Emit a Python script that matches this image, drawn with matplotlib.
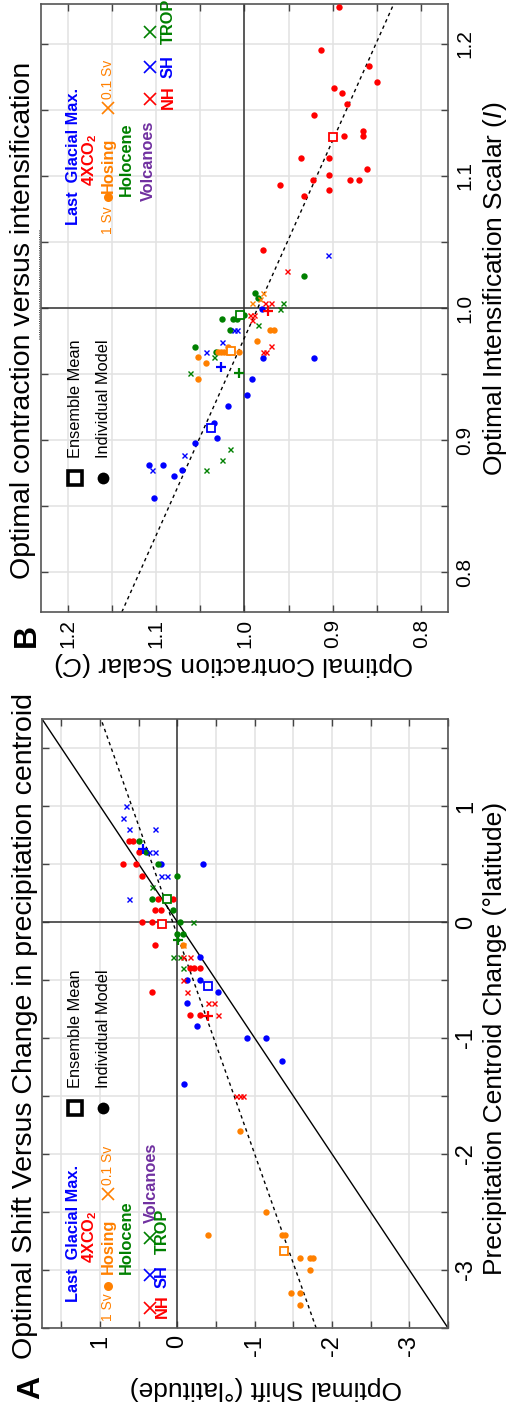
import numpy as np
import matplotlib
matplotlib.use('Agg')
from matplotlib import pyplot as plt
from matplotlib.ticker import MultipleLocator, FuncFormatter
from matplotlib.lines import Line2D

plt.rcParams['font.family'] = ['Liberation Sans', 'DejaVu Sans']
plt.rcParams['mathtext.fontset'] = 'custom'
plt.rcParams['mathtext.rm'] = 'Liberation Sans'
plt.rcParams['mathtext.it'] = 'Liberation Sans:italic'
plt.rcParams['mathtext.bf'] = 'Liberation Sans:bold'

BLUE = '#0000ff'
RED = '#ff0000'
GREEN = '#008000'
ORANGE = '#ff8000'
PURPLE = '#7030a0'

# ---- panel A: precipitation centroid change (cen) vs optimal shift (shf)
a_co2_cen = [0.70, 0.70, 0.60, 0.50, 0.50, 0.40, 0.20, 0.20, 0.10, 0.10, 0.0, 0.0, -0.2, -0.4, -0.4, -0.4, -0.6, -0.8, -0.8]
a_co2_shf = [0.62, 0.57, 0.49, 0.70, 0.54, 0.46, 0.25, 0.06, 0.29, 0.21, 0.46, 0.33, 0.29, -0.17, -0.21, -0.29, 0.33, -0.16, -0.29]
a_lgm_cen = [0.5, 0.5, -0.3, -0.5, -0.5, -0.6, -0.7, -0.9, -1.0, -1.0, -1.2, -1.4]
a_lgm_shf = [0.21, -0.33, -0.29, -0.13, -0.29, -0.53, -0.12, -0.25, -0.90, -1.15, -1.35, -0.08]
a_hol_cen = [0.70, 0.60, 0.50, 0.40, 0.20, 0.10, 0.0, -0.1, -0.1]
a_hol_shf = [0.49, 0.41, 0.25, 0.0, 0.33, 0.05, -0.04, 0.0, -0.07]
a_hos_cen = [-0.2, -1.8, -2.5, -2.7, -2.7, -2.7, -2.9, -2.9, -2.9, -3.0, -3.2, -3.2, -3.3]
a_hos_shf = [-0.07, -0.815, -1.15, -0.40, -1.35, -1.39, -1.59, -1.72, -1.76, -1.72, -1.47, -1.59, -1.59]
a_hos01_cen = [-0.2]
a_hos01_shf = [-0.07]
a_sh_cen = [1.0, 0.9, 0.8, 0.8, 0.6, 0.6, 0.4, 0.4, 0.2]
a_sh_shf = [0.66, 0.70, 0.62, 0.29, 0.36, 0.29, 0.21, 0.13, 0.62]
a_trop_cen = [0.3, 0.0, -0.3, -0.3, -0.4]
a_trop_shf = [0.33, -0.2, 0.05, -0.04, -0.07]
a_nh_cen = [-0.3, -0.3, -0.5, -0.6, -0.7, -0.7, -0.8, -1.5, -1.5, -1.5]
a_nh_shf = [-0.07, -0.16, -0.07, -0.12, -0.40, -0.48, -0.53, -0.76, -0.81, -0.85]
# ensemble means: co2, lgm, hol, hos
a_mean_cen = [-0.02, -0.55, 0.2, -2.84]
a_mean_shf = [0.20, -0.40, 0.13, -1.38]
# volcano means: nh, sh, trop
a_vmean_cen = [-0.81, 0.63, -0.155]
a_vmean_shf = [-0.40, 0.44, -0.01]
a_fit = (0.53, 0.06)   # shift = slope * centroid + intercept
a_lim = (-3.5, 1.75)

# ---- panel B: intensification (I) vs contraction (C)
b_co2_I = [1.2275, 1.195, 1.183, 1.171, 1.1665, 1.1625, 1.154, 1.146, 1.134, 1.130, 1.130, 1.1136, 1.1136, 1.101, 1.105, 1.097, 1.097, 1.097, 1.093, 1.089, 1.085, 1.044]
b_co2_C = [0.893, 0.914, 0.859, 0.850, 0.899, 0.890, 0.884, 0.921, 0.866, 0.866, 0.887, 0.936, 0.905, 0.905, 0.862, 0.923, 0.881, 0.871, 0.960, 0.905, 0.933, 0.979]
b_lgm_I = [0.999, 0.9624, 0.9624, 0.946, 0.934, 0.926, 0.9133, 0.9015, 0.8975, 0.881, 0.881, 0.8773, 0.873, 0.8566]
b_lgm_C = [0.980, 0.979, 0.921, 0.991, 0.997, 1.019, 1.034, 1.031, 1.0555, 1.108, 1.0925, 1.0705, 1.080, 1.102]
b_hol_I = [1.024, 1.0116, 1.0073, 0.995, 0.9915, 0.9915, 0.9915, 0.983, 0.9708, 0.967]
b_hol_C = [0.933, 0.988, 0.985, 1.0, 1.025, 1.013, 1.008, 1.016, 1.0558, 1.032]
b_hos_I = [0.983, 0.983, 0.975, 0.9708, 0.9667, 0.9667, 0.9667, 0.9667, 0.9667, 0.963, 0.9587, 0.946]
b_hos_C = [0.971, 0.967, 0.986, 1.019, 1.030, 1.026, 1.023, 1.018, 1.006, 1.053, 1.043, 1.053]
b_hos01_I = [1.0116, 1.007, 1.0036]
b_hos01_C = [0.979, 0.983, 0.991]
b_sh_I = [1.040, 0.983, 0.983, 0.9745, 0.9667, 0.889, 0.8773]
b_sh_C = [0.906, 1.012, 1.008, 1.025, 1.043, 1.068, 1.1045]
b_trop_I = [1.0036, 0.999, 0.987, 0.963, 0.9506, 0.893, 0.885, 0.8773]
b_trop_C = [0.957, 0.960, 0.985, 1.034, 1.062, 1.016, 1.025, 1.043]
b_nh_I = [1.028, 1.0036, 1.0036, 0.995, 0.995, 0.991, 0.971, 0.967, 0.967]
b_nh_C = [0.952, 0.977, 0.970, 0.994, 0.989, 0.991, 0.970, 0.979, 0.976]
b_mean_I = [1.129, 0.9095, 0.9947, 0.9675]
b_mean_C = [0.900, 1.038, 1.005, 1.015]
b_vmean_I = [0.998, 0.955, 0.951]
b_vmean_C = [0.974, 1.026, 1.006]
b_fit = (-0.668, 1.653)   # C = slope * I + intercept
b_lim = (0.77, 1.23)

mean_colors = [RED, BLUE, GREEN, ORANGE]
vmean_colors = [RED, BLUE, GREEN]

W, H = 508, 1411
fig = plt.figure(figsize=(W / 100, H / 100), dpi=100)


def box(x0, y0, x1, y1):
    return [x0 / W, 1 - y1 / H, (x1 - x0) / W, (y1 - y0) / H]


def fp(px, py):
    return px / W, 1 - py / H


axA = fig.add_axes(box(42, 719, 448, 1328))
axB = fig.add_axes(box(41, 4, 448, 612))


def fmt_a(v, p):
    return str(int(round(v))) if abs(v - round(v)) < 1e-6 else ''


def fmt_b(v, p):
    return '%.1f' % v if abs(v * 10 - round(v * 10)) < 1e-6 else ''


def style(ax, xlim, ylim, step, fmt, tsize):
    ax.set_xlim(*xlim)
    ax.set_ylim(*ylim)
    for axis in (ax.xaxis, ax.yaxis):
        axis.set_major_locator(MultipleLocator(step))
        axis.set_major_formatter(FuncFormatter(fmt))
    ax.grid(True, color='#e2e2e2', lw=1.1)
    ax.set_axisbelow(True)
    ax.tick_params(direction='in', length=5, width=1, color='#444444',
                   top=True, right=True, labelleft=False, labelright=True,
                   labelsize=tsize, labelrotation=90, pad=5)
    ax.yaxis.set_label_position('right')
    for s in ax.spines.values():
        s.set_color('#555555')
        s.set_linewidth(1.2)
    for lab in ax.get_yticklabels():
        lab.set_va('center')


def scatter_all(ax, groups, means, mean_x, mean_y, vmeans, vx, vy):
    for x, y, c, m in groups:
        if m == 'o':
            ax.plot(x, y, 'o', color=c, ms=4.6, mew=0, zorder=3)
        else:
            ax.plot(x, y, 'x', color=c, ms=3.6, mew=1.0, zorder=3)
    for x, y, c in zip(mean_x, mean_y, means):
        ax.plot(x, y, 's', mec=c, mfc='white', ms=6, mew=1.3, zorder=4)
    for x, y, c in zip(vx, vy, vmeans):
        ax.plot(x, y, '+', color=c, ms=7, mew=1.6, zorder=4)


# panel A (rotated: horizontal = shift, reversed; vertical = centroid change)
style(axA, (a_lim[1], a_lim[0]), a_lim, 0.5, fmt_a, 17)
axA.axhline(0, color='#333333', lw=1.1, zorder=2)
axA.axvline(0, color='#333333', lw=1.1, zorder=2)
axA.plot(a_lim, a_lim, color='black', lw=1.0, zorder=2)
cc = np.array(a_lim)
axA.plot(a_fit[0] * cc + a_fit[1], cc, color='black', lw=1.0, ls=(0, (2.5, 2.5)), zorder=2)
scatter_all(axA, [
    (a_co2_shf, a_co2_cen, RED, 'o'),
    (a_lgm_shf, a_lgm_cen, BLUE, 'o'),
    (a_hol_shf, a_hol_cen, GREEN, 'o'),
    (a_hos_shf, a_hos_cen, ORANGE, 'o'),
    (a_hos01_shf, a_hos01_cen, ORANGE, 'x'),
    (a_sh_shf, a_sh_cen, BLUE, 'x'),
    (a_trop_shf, a_trop_cen, GREEN, 'x'),
    (a_nh_shf, a_nh_cen, RED, 'x'),
], mean_colors, a_mean_shf, a_mean_cen, vmean_colors, a_vmean_shf, a_vmean_cen)
axA.set_xlabel('Optimal Shift (°latitude)', fontsize=19, rotation=180, ha='center', va='center')
axA.xaxis.set_label_coords((266 - 42) / 406, (1328 - 1388) / 609)
axA.set_ylabel('Precipitation Centroid Change (°latitude)', fontsize=19, rotation=90, ha='center', va='center')
axA.yaxis.set_label_coords((495 - 42) / 406, (1328 - 1038) / 609)

# panel B (rotated: horizontal = contraction, reversed; vertical = intensification)
style(axB, (b_lim[1], b_lim[0]), b_lim, 0.05, fmt_b, 15)
axB.axhline(1.0, color='#333333', lw=1.1, zorder=2)
axB.axvline(1.0, color='#333333', lw=1.1, zorder=2)
ii = np.array(b_lim)
axB.plot(b_fit[0] * ii + b_fit[1], ii, color='black', lw=1.0, ls=(0, (2.5, 2.5)), zorder=2)
scatter_all(axB, [
    (b_co2_C, b_co2_I, RED, 'o'),
    (b_lgm_C, b_lgm_I, BLUE, 'o'),
    (b_hol_C, b_hol_I, GREEN, 'o'),
    (b_hos_C, b_hos_I, ORANGE, 'o'),
    (b_hos01_C, b_hos01_I, ORANGE, 'x'),
    (b_sh_C, b_sh_I, BLUE, 'x'),
    (b_trop_C, b_trop_I, GREEN, 'x'),
    (b_nh_C, b_nh_I, RED, 'x'),
], mean_colors, b_mean_C, b_mean_I, vmean_colors, b_vmean_C, b_vmean_I)
axB.set_xlabel(r'Optimal Contraction Scalar ($\mathit{C}$)', fontsize=19, rotation=180, ha='center', va='center')
axB.xaxis.set_label_coords((234 - 41) / 407, (612 - 664) / 608)
axB.set_ylabel(r'Optimal Intensification Scalar ($\mathit{I}$)', fontsize=19, rotation=90, ha='center', va='center')
axB.yaxis.set_label_coords((495 - 41) / 407, (612 - 289) / 608)

# titles and panel letters
fig.text(*fp(25, 1359), 'Optimal Shift Versus Change in precipitation centroid', fontsize=20.5,
         rotation=90, ha='center', va='bottom')
fig.text(*fp(31, 1387), 'A', fontsize=23, fontweight='bold', rotation=90, ha='center', va='center')
fig.text(*fp(23, 579), 'Optimal contraction versus intensification', fontsize=20.5,
         rotation=90, ha='center', va='bottom')
fig.text(*fp(27, 635), 'B', fontsize=23, fontweight='bold', rotation=90, ha='center', va='center')
fig.add_artist(Line2D([38.5 / W, 38.5 / W], [1 - 230 / H, 1 - 340 / H], color='black', lw=0.6, ls=':'))


def label(px, py, s, color, size=11.8, weight='bold'):
    fig.text(*fp(px, py), s, color=color, fontsize=size, fontweight=weight,
             rotation=90, ha='center', va='bottom')


def key(px, py, marker, color, ms, mew, mfc=None):
    fig.add_artist(Line2D([px / W], [1 - py / H], marker=marker, color=color, ms=ms, mew=mew,
                          mfc=mfc if mfc else color, ls='none'))


def legend(y0, ens_y, vol_x, nh_x):
    # y0 holds image y of the bottom anchor for each legend entry
    label(73, y0['lgm'], 'Last  Glacial Max.', BLUE)
    label(90, y0['co2'], r'4XCO$_\mathbf{2}$', RED)
    label(108, y0['sv1'], '1 Sv', ORANGE, size=10, weight='normal')
    key(108, y0['dot'], 'o', ORANGE, 6.5, 0)
    label(108, y0['hos'], 'Hosing', ORANGE)
    key(108, y0['x01'], 'x', ORANGE, 8, 1.2)
    label(108, y0['sv01'], '0.1 Sv', ORANGE, size=10, weight='normal')
    label(126, y0['hol'], 'Holocene', GREEN)
    label(vol_x, y0['vol'], 'Volcanoes', PURPLE)
    for name, col in (('NH', RED), ('SH', BLUE), ('TROP', GREEN)):
        key(150, y0['x' + name], 'x', col, 8, 1.2)
        label(nh_x, y0[name], name, col)
    key(75, ens_y, 's', 'black', 10.5, 2.6, mfc='white')
    fig.text(*fp(75, ens_y - 20), 'Ensemble Mean', fontsize=11.8, rotation=90, ha='center', va='bottom')
    key(103, ens_y, 'o', 'black', 8.5, 0)
    fig.text(*fp(103, ens_y - 20), 'Individual Model', fontsize=11.8, rotation=90, ha='center', va='bottom')


legend({'lgm': 1302, 'co2': 1263, 'sv1': 1321, 'dot': 1286, 'hos': 1274, 'x01': 1194, 'sv01': 1185,
        'hol': 1274, 'vol': 1223, 'xNH': 1308, 'NH': 1318, 'xSH': 1275, 'SH': 1288,
        'xTROP': 1238, 'TROP': 1254}, 1108, 151, 162)
legend({'lgm': 225, 'co2': 186, 'sv1': 234, 'dot': 197, 'hos': 193, 'x01': 108, 'sv01': 99,
        'hol': 196, 'vol': 201, 'xNH': 99, 'NH': 109, 'xSH': 67, 'SH': 78,
        'xTROP': 32, 'TROP': 44}, 478, 148, 168)

fig.savefig('out.png', dpi=100)
